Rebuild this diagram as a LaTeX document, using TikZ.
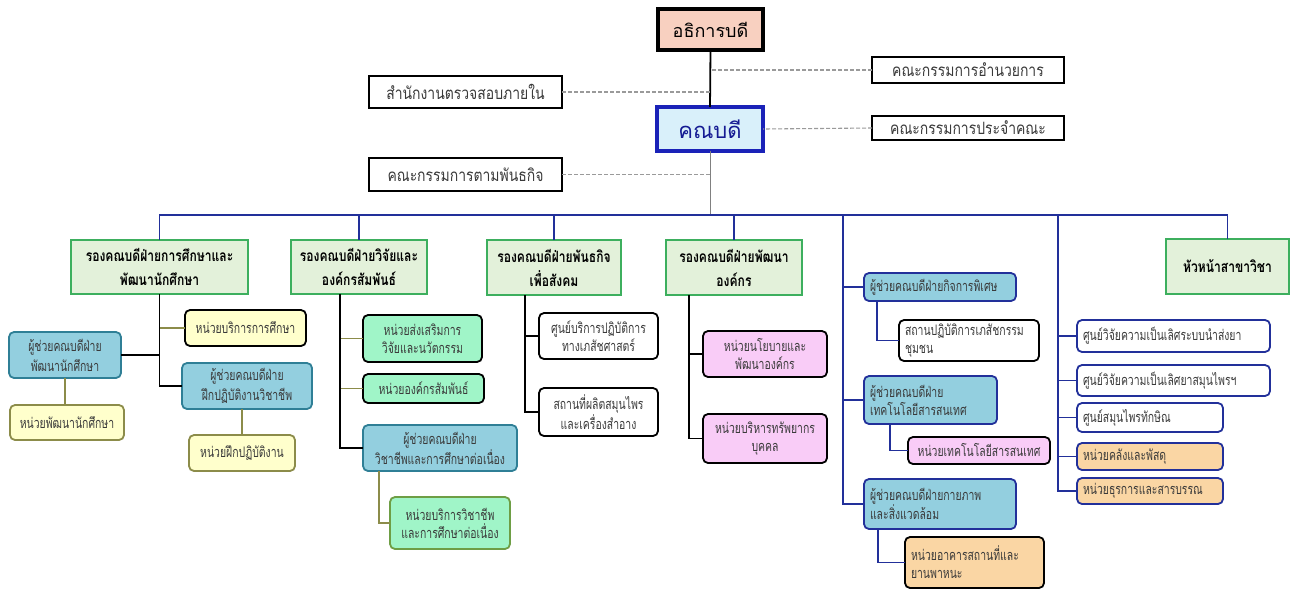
\documentclass[tikz,border=0pt]{standalone}
\usepackage{fontspec}
\newfontfamily\thai[Script=Thai]{Loma}
\newfontfamily\thaic[Script=Thai,FakeStretch=0.72]{Loma}
\newfontfamily\thait[Script=Thai,FakeStretch=0.82]{Loma}
\newfontfamily\thaih[Script=Thai,FakeStretch=0.78]{Loma}
\definecolor{peach}{HTML}{F8D0C0}
\definecolor{deanfill}{HTML}{D9F0FA}
\definecolor{deanblue}{HTML}{1A22B8}
\definecolor{busblue}{HTML}{22309A}
\definecolor{hgreen}{HTML}{E3F1DA}
\definecolor{hgreenb}{HTML}{3DAF5E}
\definecolor{asblue}{HTML}{93CFDF}
\definecolor{asborder}{HTML}{2F7F96}
\definecolor{yel}{HTML}{FFFFCC}
\definecolor{olv}{HTML}{8C8C4A}
\definecolor{mint}{HTML}{A0F5C8}
\definecolor{mintb}{HTML}{6E9E45}
\definecolor{pinkf}{HTML}{F9CCF7}
\definecolor{orng}{HTML}{FAD6A4}
\definecolor{txt}{HTML}{3A3A3A}
\definecolor{dash}{HTML}{9A9A9A}
\newcommand\bx[7]{%
  \node[#2, minimum width={(#5-#3)*1pt}, minimum height={(#6-#4)*1pt}]
    (#1) at ({(#3+#5)/2},{(#4+#6)/2}) {#7};}
\newcommand\bxl[7]{%
  \pgfmathsetlengthmacro\bxw{(#5-#3)*1pt-12pt}%
  \node[#2, text width=\bxw, align=left, minimum width={(#5-#3)*1pt}, minimum height={(#6-#4)*1pt}]
    (#1) at ({(#3+#5)/2},{(#4+#6)/2}) {#7};}
\tikzset{
  base/.style={inner sep=2pt, outer sep=0pt, align=center},
  sm/.style={base, text=txt, font=\thaic\fontsize{14.5}{18}\selectfont},
  rnd/.style={sm, rounded corners=5pt, line width=1.8pt},
  presbox/.style={base, draw=black, fill=peach, line width=3.5pt, font=\thai\fontsize{18}{22}\selectfont},
  deanbox/.style={base, draw=deanblue, fill=deanfill, line width=4pt, text=deanblue!80!black, font=\thai\fontsize{22}{24}\selectfont},
  topbox/.style={base, draw=black, fill=white, line width=2.5pt, text=txt, font=\thait\fontsize{17}{18}\selectfont},
  hdr/.style={base, draw=hgreenb, fill=hgreen, line width=2.5pt, font=\thaih\bfseries\fontsize{15.5}{24}\selectfont},
  asst/.style={rnd, draw=asborder, fill=asblue, font=\thaic\fontsize{14.5}{20}\selectfont},
  asstb/.style={rnd, draw=busblue, fill=asblue},
  yelk/.style={rnd, draw=black, fill=yel},
  yelo/.style={rnd, draw=olv, fill=yel},
  mintk/.style={rnd, draw=black, fill=mint},
  minto/.style={rnd, draw=mintb, fill=mint},
  whk/.style={rnd, draw=black, fill=white},
  whb/.style={rnd, draw=busblue, fill=white},
  pinkk/.style={rnd, draw=black, fill=pinkf},
  orgk/.style={rnd, draw=black, fill=orng},
  orgb/.style={rnd, draw=busblue, fill=orng},
  blk/.style={draw=black, line width=1.8pt},
  olvl/.style={draw=olv, line width=1.8pt},
  busl/.style={draw=busblue, line width=1.8pt},
  gry/.style={draw=gray, line width=0.9pt},
  dsh/.style={draw=dash, line width=1.1pt, dash pattern=on 4pt off 2pt},
}
\begin{document}
\begin{tikzpicture}[x=1pt,y=-1pt]
\useasboundingbox[fill=white] (0,0) rectangle (1298,592);
% top level
\bx{pres}{presbox}{658}{9}{763}{50}{อธิการบดี}
\bx{dean}{deanbox}{657}{107}{763}{151}{คณบดี}
\bx{exec}{topbox}{872}{57}{1064}{83}{คณะกรรมการอำนวยการ}
\bx{fac}{topbox}{872}{116}{1064}{140}{คณะกรรมการประจำคณะ}
\bx{audit}{topbox}{369}{76}{562}{108}{สำนักงานตรวจสอบภายใน}
\bx{miss}{topbox}{369}{158}{562}{191}{คณะกรรมการตามพันธกิจ}
\coordinate (bus) at (0,215);
\draw[blk] (pres.south) -- (dean.north);
\draw[dsh] (exec.west) -- (exec.west -| pres.south);
\draw[dsh] (audit.east) -- (audit.east -| pres.south);
\draw[dsh] (fac.west) -- (dean.east);
\draw[dsh] (miss.east) -- (miss.east -| dean.south);
\draw[gry] (dean.south) -- (dean.south |- bus);
% vice deans
\bx{v1}{hdr}{71}{240}{248}{294}{รองคณบดีฝ่ายการศึกษาและ\\พัฒนานักศึกษา}
\bx{v2}{hdr}{291}{240}{427}{294}{รองคณบดีฝ่ายวิจัยและ\\องค์กรสัมพันธ์}
\bx{v3}{hdr}{487}{240}{621}{295}{รองคณบดีฝ่ายพันธกิจ\\เพื่อสังคม}
\bx{v4}{hdr}{666}{240}{802}{295}{รองคณบดีฝ่ายพัฒนา\\องค์กร}
\bx{hd}{hdr}{1166}{239}{1289}{294}{หัวหน้าสาขาวิชา}
\coordinate (t5) at (843,215);
\coordinate (t6) at (1058,215);
\draw[busl] (v1.north) |- (bus -| hd.north) -- (hd.north);
\foreach \n in {v2,v3,v4} \draw[busl] (\n.north) -- (\n.north |- bus);
% column 1
\bx{a1}{yelk}{185}{310}{306}{346}{หน่วยบริการการศึกษา}
\bx{a2}{asst}{9}{332}{121}{378}{ผู้ช่วยคณบดีฝ่าย\\พัฒนานักศึกษา}
\bx{a3}{asst}{182}{363}{312}{409}{ผู้ช่วยคณบดีฝ่าย\\ฝึกปฏิบัติงานวิชาชีพ}
\bx{a4}{yelo}{189}{435}{295}{471}{หน่วยฝึกปฏิบัติงาน}
\bx{a6}{yelo}{10}{405}{124}{440}{หน่วยพัฒนานักศึกษา}
\draw[olvl] (a1.west) -- (a1.west -| v1.south);
\draw[blk] (a2.east) -- (a2.east -| v1.south);
\draw[blk] (v1.south) |- (a3.west);
\draw[olvl] (a4.north |- a3.south) -- (a4.north);
\draw[olvl] (a2.south) -- (a2.south |- a6.north);
% column 2
\coordinate (t2) at (340,294);
\bx{b1}{mintk}{363}{315}{482}{362}{หน่วยส่งเสริมการ\\วิจัยและนวัตกรรม}
\bx{b2}{mintk}{363}{374}{484}{403}{หน่วยองค์กรสัมพันธ์}
\bx{b3}{asst}{363}{425}{517}{471}{ผู้ช่วยคณบดีฝ่าย\\วิชาชีพและการศึกษาต่อเนื่อง}
\bx{b4}{minto}{390}{497}{510}{549}{หน่วยบริการวิชาชีพ\\และการศึกษาต่อเนื่อง}
\draw[olvl] (b1.west) -- (b1.west -| t2);
\draw[olvl] (b2.west) -- (b2.west -| t2);
\draw[blk] (t2) |- (b3.west);
\draw[olvl] (b3.south west) ++(16,0) |- (b4.west);
% column 3
\coordinate (t3) at (525,295);
\bx{c1}{whk}{539}{313}{658}{359}{ศูนย์บริการปฏิบัติการ\\ทางเภสัชศาสตร์}
\bx{c2}{whk}{539}{388}{658}{436}{สถานที่ผลิตสมุนไพร\\และเครื่องสำอาง}
\draw[blk] (c1.west) -- (c1.west -| t3);
\draw[blk] (t3) |- (c2.west);
% column 4
\coordinate (t4) at (689,295);
\bx{d1}{pinkk}{703}{331}{827}{377}{หน่วยนโยบายและ\\พัฒนาองค์กร}
\bx{d2}{pinkk}{703}{414}{827}{463}{หน่วยบริหารทรัพยากร\\บุคคล}
\draw[blk] (d1.west) -- (d1.west -| t4);
\draw[blk] (t4) |- (d2.west);
% column 5
\bxl{e1}{asstb}{864}{273}{1016}{301}{ผู้ช่วยคณบดีฝ่ายกิจการพิเศษ}
\bxl{e2}{whk}{899}{320}{1039}{361}{สถานปฏิบัติการเภสัชกรรม\\ชุมชน}
\bxl{e3}{asstb}{864}{376}{997}{424}{ผู้ช่วยคณบดีฝ่าย\\เทคโนโลยีสารสนเทศ}
\bx{e4}{pinkk}{908}{437}{1050}{464}{หน่วยเทคโนโลยีสารสนเทศ}
\bxl{e5}{asstb}{864}{479}{1016}{529}{ผู้ช่วยคณบดีฝ่ายกายภาพ\\และสิ่งแวดล้อม}
\bxl{e6}{orgk}{905}{537}{1044}{588}{หน่วยอาคารสถานที่และ\\ยานพาหนะ}
\draw[busl] (e1.west) -- (e1.west -| t5);
\draw[busl] (e3.west) -- (e3.west -| t5);
\draw[busl] (t5) |- (e5.west);
\draw[busl] (e1.south west) ++(13,0) |- (e2.west);
\draw[busl] (e3.south west) ++(26,0) |- (e4.west);
\draw[busl] (e5.south west) ++(14,0) |- (e6.west);
% column 6
\bxl{f1}{whb}{1077}{320}{1270}{352}{ศูนย์วิจัยความเป็นเลิศระบบนำส่งยา}
\bxl{f2}{whb}{1077}{365}{1270}{396}{ศูนย์วิจัยความเป็นเลิศยาสมุนไพรฯ}
\bxl{f3}{whb}{1077}{403}{1223}{432}{ศูนย์สมุนไพรทักษิณ}
\bxl{f4}{orgb}{1077}{443}{1223}{470}{หน่วยคลังและพัสดุ}
\bxl{f5}{orgb}{1077}{478}{1223}{504}{หน่วยธุรการและสารบรรณ}
\foreach \n in {f1,f2,f3,f4} \draw[busl] (\n.west) -- (\n.west -| t6);
\draw[busl] (t6) |- (f5.west);
\end{tikzpicture}
\end{document}
